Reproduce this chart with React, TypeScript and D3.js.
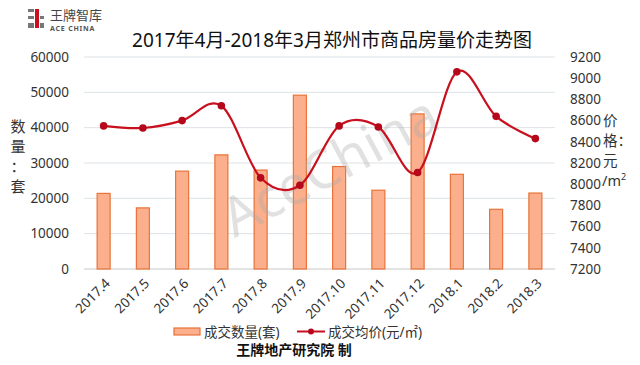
import React, { useRef, useEffect } from 'react';
import * as d3 from 'd3';

const months = ['2017.4', '2017.5', '2017.6', '2017.7', '2017.8', '2017.9', '2017.10', '2017.11', '2017.12', '2018.1', '2018.2', '2018.3'];
const volume = [21400, 17300, 27700, 32300, 28000, 49200, 29000, 22300, 43900, 26800, 16900, 21500];
const price = [8550, 8530, 8600, 8740, 8060, 7990, 8550, 8540, 8110, 9060, 8640, 8430];
const volTicks = [0, 10000, 20000, 30000, 40000, 50000, 60000];
const priceTicks = [7200, 7400, 7600, 7800, 8000, 8200, 8400, 8600, 8800, 9000, 9200];

const FONT = '"Noto Sans", "Noto Sans CJK SC", sans-serif';

const App = () => {
    const ref = useRef<SVGSVGElement>(null);

    useEffect(() => {
        const width = 640;
        const height = 365;
        const margin = { top: 57, right: 85, bottom: 96, left: 84 };

        const svg = d3.select(ref.current)
            .attr('width', width)
            .attr('height', height)
            .style('font-family', FONT);
        svg.selectAll('*').remove();

        const x = d3.scaleBand()
            .domain(months)
            .range([margin.left, width - margin.right]);
        const y = d3.scaleLinear().domain([0, 60000]).range([height - margin.bottom, margin.top]);
        const y2 = d3.scaleLinear().domain([7200, 9200]).range([height - margin.bottom, margin.top]);

        svg.append('rect').attr('width', width).attr('height', height).attr('fill', '#fff');

        // grid
        svg.append('g')
            .selectAll('line')
            .data(volTicks)
            .join('line')
            .attr('x1', margin.left)
            .attr('x2', width - margin.right)
            .attr('y1', d => y(d))
            .attr('y2', d => y(d))
            .attr('stroke', d => d === 0 ? '#c8c8c8' : '#dde2e6')
            .attr('stroke-width', 1);

        // left axis
        const left = svg.append('g')
            .attr('transform', `translate(${margin.left - 12},0)`)
            .call(d3.axisLeft(y).tickValues(volTicks).tickSize(0).tickFormat(d3.format('d')));
        left.select('.domain').remove();
        left.selectAll('text').attr('font-size', 13.5).attr('fill', '#333').attr('font-family', FONT);

        // right axis
        const right = svg.append('g')
            .attr('transform', `translate(${width - margin.right + 12},0)`)
            .call(d3.axisRight(y2).tickValues(priceTicks).tickSize(0).tickFormat(d3.format('d')));
        right.select('.domain').remove();
        right.selectAll('text').attr('font-size', 13.5).attr('fill', '#333').attr('font-family', FONT);

        // bottom labels
        const bottom = svg.append('g')
            .attr('transform', `translate(0,${height - margin.bottom})`)
            .call(d3.axisBottom(x).tickSize(0));
        bottom.select('.domain').remove();
        bottom.selectAll('text')
            .attr('font-size', 13.5)
            .attr('fill', '#333')
            .attr('font-family', FONT)
            .attr('text-anchor', 'end')
            .attr('dy', '0.35em')
            .attr('transform', 'translate(4,12) rotate(-45)')
            .attr('y', 0)
            .attr('x', 0);

        // bars
        const bw = 13;
        svg.append('g')
            .selectAll('rect')
            .data(volume)
            .join('rect')
            .attr('x', (d, i) => x(months[i])! + x.bandwidth() / 2 - bw / 2)
            .attr('y', d => y(d))
            .attr('width', bw)
            .attr('height', d => y(0) - y(d))
            .attr('fill', '#fbaf8c')
            .attr('stroke', '#e8733a')
            .attr('stroke-width', 1.2);

        // watermark
        svg.append('text')
            .attr('transform', 'translate(332,170) rotate(-28)')
            .attr('text-anchor', 'middle')
            .attr('dominant-baseline', 'middle')
            .attr('font-size', 54)
            .attr('font-family', FONT)
            .attr('fill', '#aaa')
            .attr('opacity', 0.35)
            .text('AceChina');

        // price line
        const line = d3.line<number>()
            .x((d, i) => x(months[i])! + x.bandwidth() / 2)
            .y(d => y2(d))
            .curve(d3.curveCatmullRom.alpha(0));
        svg.append('path')
            .datum(price)
            .attr('d', line)
            .attr('fill', 'none')
            .attr('stroke', '#c8101e')
            .attr('stroke-width', 2.2);
        svg.append('g')
            .selectAll('circle')
            .data(price)
            .join('circle')
            .attr('cx', (d, i) => x(months[i])! + x.bandwidth() / 2)
            .attr('cy', d => y2(d))
            .attr('r', 3.8)
            .attr('fill', '#b5081a');

        // axis titles
        const leftTitle = ['数', '量', '：', '套'];
        svg.append('g')
            .selectAll('text')
            .data(leftTitle)
            .join('text')
            .attr('x', 18)
            .attr('y', (d, i) => 132 + i * 20)
            .attr('text-anchor', 'middle')
            .attr('font-size', 15)
            .attr('fill', '#333')
            .text(d => d);
        const rightTitle = ['价', '格：', '元'];
        svg.append('g')
            .selectAll('text')
            .data(rightTitle)
            .join('text')
            .attr('x', 603)
            .attr('y', (d, i) => 126 + i * 20)
            .attr('font-size', 14.5)
            .attr('fill', '#333')
            .text(d => d);
        const unit = svg.append('text')
            .attr('x', 602)
            .attr('y', 186)
            .attr('font-size', 14.5)
            .attr('fill', '#333');
        unit.append('tspan').text('/m');
        unit.append('tspan').attr('font-size', 9).attr('dy', -6).text('2');

        // title
        svg.append('text')
            .attr('x', 332)
            .attr('y', 47)
            .attr('text-anchor', 'middle')
            .attr('font-size', 19)
            .attr('fill', '#111')
            .text('2017年4月-2018年3月郑州市商品房量价走势图');

        // logo
        const logo = svg.append('g');
        logo.append('rect').attr('x', 28).attr('y', 9).attr('width', 6).attr('height', 3).attr('fill', '#777');
        logo.append('rect').attr('x', 28).attr('y', 16).attr('width', 6).attr('height', 3).attr('fill', '#777');
        logo.append('rect').attr('x', 28).attr('y', 23).attr('width', 6).attr('height', 5).attr('fill', '#777');
        logo.append('rect').attr('x', 35).attr('y', 9).attr('width', 4).attr('height', 19).attr('fill', '#c8101e');
        logo.append('rect').attr('x', 40).attr('y', 16).attr('width', 4).attr('height', 3).attr('fill', '#777');
        logo.append('rect').attr('x', 40).attr('y', 23).attr('width', 4).attr('height', 5).attr('fill', '#777');
        logo.append('text')
            .attr('x', 50).attr('y', 19.5)
            .attr('font-size', 13).attr('fill', '#444')
            .text('王牌智库');
        logo.append('text')
            .attr('x', 50).attr('y', 31)
            .attr('font-size', 7).attr('font-weight', 'bold').attr('fill', '#555')
            .attr('letter-spacing', 0.8)
            .text('ACE CHINA');

        // legend
        const lg = svg.append('g');
        lg.append('rect').attr('x', 174).attr('y', 328).attr('width', 26).attr('height', 7)
            .attr('fill', '#fbaf8c').attr('stroke', '#e8733a').attr('stroke-width', 1.2);
        lg.append('text').attr('x', 204).attr('y', 337).attr('font-size', 13.5).attr('fill', '#333').text('成交数量(套)');
        lg.append('line').attr('x1', 297).attr('x2', 325).attr('y1', 331.5).attr('y2', 331.5)
            .attr('stroke', '#c8101e').attr('stroke-width', 2);
        lg.append('circle').attr('cx', 311).attr('cy', 331.5).attr('r', 3).attr('fill', '#b5081a');
        lg.append('text').attr('x', 328).attr('y', 337).attr('font-size', 13.5).attr('fill', '#333').text('成交均价(元/㎡)');

        // footer
        svg.append('text')
            .attr('x', 294)
            .attr('y', 355)
            .attr('text-anchor', 'middle')
            .attr('font-size', 14)
            .attr('font-weight', 'bold')
            .attr('fill', '#111')
            .text('王牌地产研究院 制');
    }, []);

    return (
        <div style={{ margin: -8 }}>
            <svg ref={ref} style={{ display: 'block' }}></svg>
        </div>
    );
};

export default App;
